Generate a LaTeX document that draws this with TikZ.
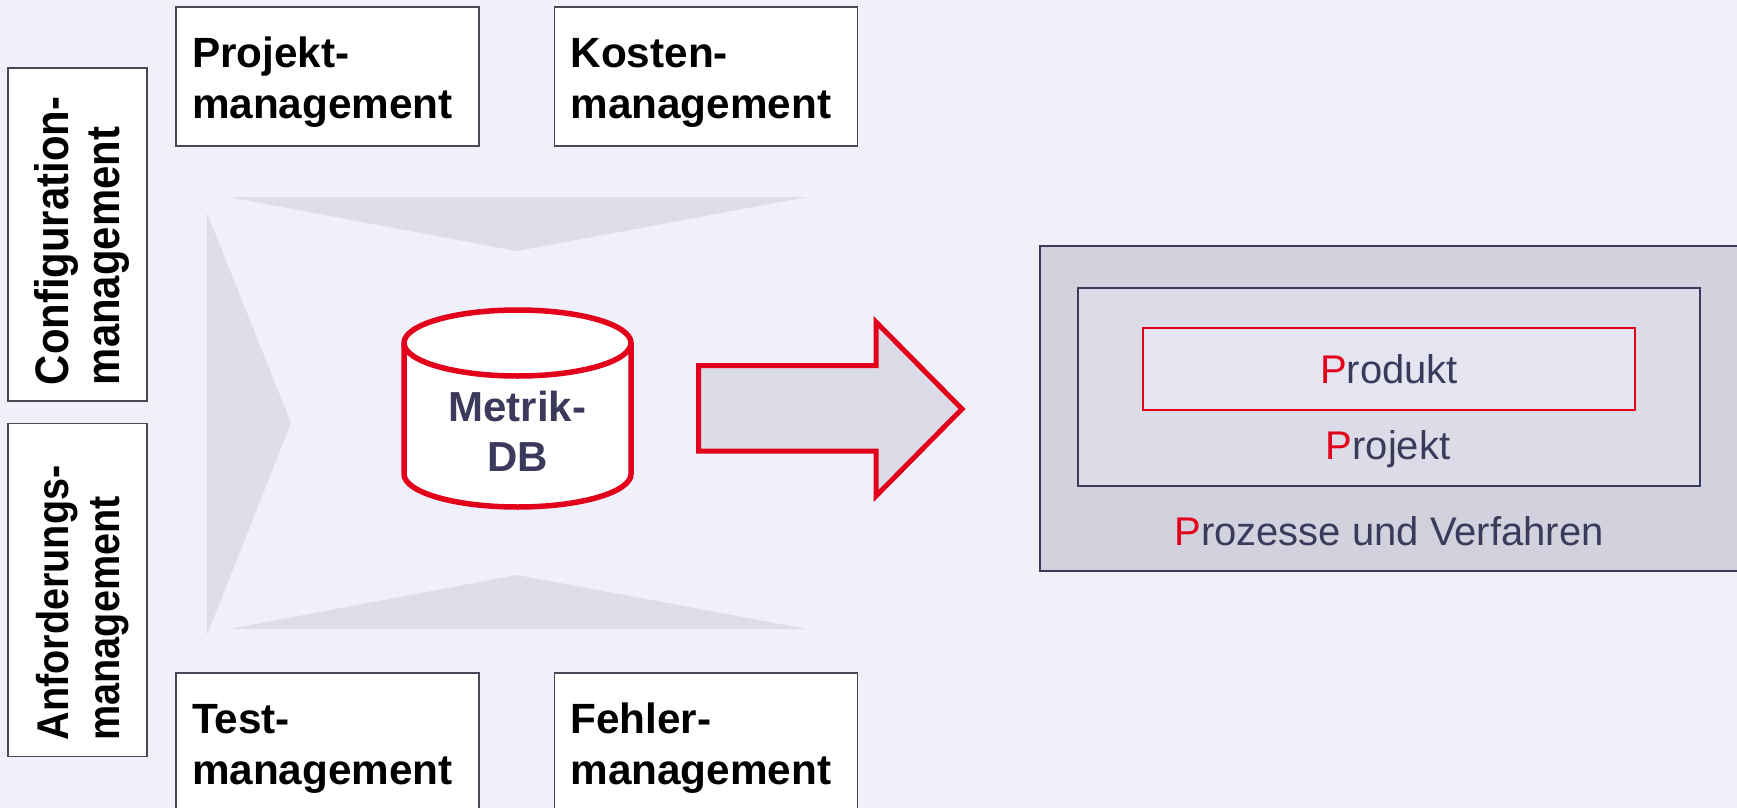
\documentclass[tikz,border=0pt]{standalone}
\usepackage{fontspec}
\setmainfont{Liberation Sans}
\newfontfamily\stretchbold[FakeStretch=0.89]{Liberation Sans Bold}
\definecolor{pagebg}{HTML}{EFF0FA}
\definecolor{wedge}{HTML}{DDDEE9}
\definecolor{boxline}{HTML}{4A4858}
\definecolor{dark}{HTML}{3C3A5C}
\definecolor{accent}{HTML}{E2001A}
\definecolor{outerfill}{HTML}{D1D2DD}
\definecolor{midfill}{HTML}{DBDCE7}
\definecolor{innerfill}{HTML}{E4E5F1}
\tikzset{
  mgmt/.style={draw=boxline,line width=1.8pt,fill=white,text=black,font=\fontsize{42.3}{51}\selectfont\bfseries,
    align=left,text width=271pt,inner xsep=16pt,inner ysep=0pt,minimum width=303pt,minimum height=139pt,outer sep=0pt},
  mgmtv/.style={mgmt,rotate=90,text width=301pt,minimum width=333pt},
  wedgeshape/.style={fill=wedge,draw=none},
  frame/.style={draw=dark,line width=2.6pt,minimum width=#1,inner sep=0pt,outer sep=0pt},
  ptext/.style={font=\fontsize{40}{48}\selectfont,text=dark,anchor=base,inner sep=0pt},
}
\newcommand{\redP}{\textcolor{accent}{P}}
\newcommand{\topgap}{\rule{0pt}{42pt}}
\newcommand{\topgapv}{\rule{0pt}{42pt}}
\begin{document}
\begin{tikzpicture}[x=1pt,y=-1pt]
\useasboundingbox (0,0) rectangle (1737,808);
\clip (0,0) rectangle (1737,808);
\fill[pagebg] (0,0) rectangle (1737,808);
% wedges
\fill[wedgeshape] (229,197) -- (807,197) -- (517,251) -- cycle;
\fill[wedgeshape] (229,629) -- (807,629) -- (517,575) -- cycle;
\fill[wedgeshape] (207,213) -- (291,423) -- (207,635) -- cycle;
% management boxes
\node[mgmt] (projekt) at (327.5,76.5) {\topgap Projekt-\\management};
\node[mgmt] (kosten) at (706,76.5) {\topgap Kosten-\\management};
\node[mgmt] (test) at (327.5,742.5) {\topgap Test-\\management};
\node[mgmt] (fehler) at (706,742.5) {\topgap Fehler-\\management};
\node[mgmtv] (config) at (77.5,234.5) {\fontsize{47}{48.5}\stretchbold\topgapv Configuration-\\management};
\node[mgmtv] (anford) at (77.5,590) {\fontsize{44.5}{47}\stretchbold\topgapv Anforderungs-\\management};
% database
\draw[accent,line width=5.5pt,fill=white] (404,343) -- (404,474) arc[start angle=180,end angle=360,x radius=113.5pt,y radius=33pt] -- (631,343) arc[start angle=0,end angle=180,x radius=113.5pt,y radius=33pt] -- cycle;
\draw[accent,line width=5.5pt] (404,343) arc[start angle=180,end angle=360,x radius=113.5pt,y radius=33pt];
\node[font=\fontsize{42}{50}\selectfont\bfseries,text=dark,align=center,inner sep=0pt] (db) at (517.5,431) {Metrik-\\DB};
% arrow
\draw[accent,line width=5pt,fill=midfill,miter limit=10] (698.5,365.5) -- (876,365.5) -- (876,322) -- (962,409) -- (876,496) -- (876,451) -- (698.5,451) -- cycle;
% nested frames
\node[frame=720pt,fill=outerfill,minimum height=325pt] (outer) at (1400,408.5) {};
\node[frame=622pt,fill=midfill,minimum height=198pt] (middle) at (1389,387) {};
\node[draw=accent,line width=2.6pt,fill=innerfill,minimum width=492pt,minimum height=82pt,inner sep=0pt,outer sep=0pt] (inner) at (1389,369) {};
\node[ptext] (produkt) at (1389,383) {\redP rodukt};
\node[ptext] (projektlabel) at (1388,459) {\redP rojekt};
\node[ptext] (prozesse) at (1389,545) {\redP rozesse und Verfahren};
\end{tikzpicture}
\end{document}
